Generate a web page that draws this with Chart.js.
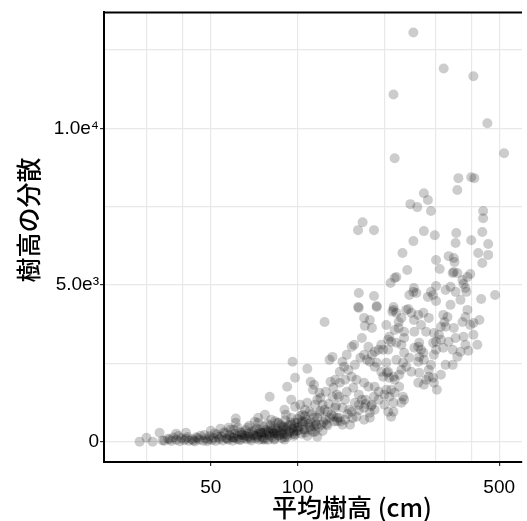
<!DOCTYPE html>
<html>
<head>
<meta charset="utf-8">
<script src="https://cdn.jsdelivr.net/npm/chart.js@4.4.1/dist/chart.umd.min.js"></script>
<style>
  html, body { margin: 0; padding: 0; background: #fff; }
</style>
</head>
<body>
<canvas id="cv" width="527" height="521"></canvas>
<script>
/***** データ *****/
// 平均樹高 (cm) と 樹高の分散 は同じ順番で対応
const meanHeight = [
  // 上の方のまばらな点
  252,321,407,215,455,217,520,361,400,410,
  358,274,283,246,260,290,440,440,274,299,
  355,353,400,437,458,252,231,423,458,437,
  // 5e3 付近
  302,334,348,350,311,348,345,358,397,388,
  373,376,382,385,240,220,210,339,302,253,
  252,244,258,290,295,283,302,326,353,433,
  484,215,242,168,162,184,217,163,184,162,
  188,
  // 右側のかたまり
  215,220,238,248,262,273,229,203,320,331,
  323,314,326,382,373,397,407,427,348,224,
  234,254,279,297,309,208,211,220,234,264,
  262,254,268,273,264,262,295,302,314,334,
  353,376,302,320,345,367,391,297,345,206,
  203,220,234,244,232,238,248,229,225,206,
  208,217,211,225,217,232,234,215,229,206,
  211,262,274,285,295,297,279,304,264,285,
  339,367,388,407,420,382,358,326,314,290,
  274,253,268,285,229,
  // 100〜200 cm
  124,163,188,170,178,171,181,213,96,108,
  98,92,80,129,132,148,154,157,167,176,
  170,181,191,198,143,145,140,111,114,113,
  119,130,135,140,146,154,160,170,176,185,
  185,195,204,215,178,188,203,208,200,215,
  198,191,95,98,102,108,106,117,122,124,
  129,117,132,139,146,135,143,151,158,167,
  170,178,185,184,139,146,143,152,160,170,
  90,91,77,81,85,73,89,95,100,106,
  111,115,117,79,83,75,92,98,106,77,
  83,90,
  104,110,115,120,125,133,137,148,156,163,
  172,181,191,200,150,158,165,174,185,195,
  206,217,224,127,137,154,163,178,
  // 左下
  28.3,29.9,31.4,33.2,34.5,37.9,41,50,54,61,
  61,73,71,68,57.6,60,62,
  // 底の帯
  34,35.5,36.5,37,38,39,39.5,40.5,41.5,42,
  43,44,44.5,45.5,46,47,48,48.5,49.5,50.5,
  51,52,52.5,53.5,54.5,55,56,56.5,57.5,58,
  59,59.5,60.5,61.5,62,63,63.5,64.5,65,66,
  66.5,67.5,68,69,69.5,70.5,71.5,72,73,73.5,
  74.5,75,76,76.5,77.5,78,79,79.5,80.5,81.5,
  82,83,84,84.5,85.5,86,87,88,88.5,89.5,
  90.5,91,92,93,94,95,96,97,98,99,
  101,102,103,104,105,107,108,110,112,113,
  115,118,120,122,125,127,131,134,137,
  36,38.5,41,43.5,45,47.5,49,51.5,53,55.5,
  57,58.5,60,62.5,64,65.5,67,68.5,70,71,
  72.5,74,75.5,77,78.5,80,81,82.5,83.5,85,
  86.5,87.5,89,90,91.5,93.5,94.5,96.5,97.5,100,
  100.5,103.5,106,109,111,114,116,119,123,128,
  126,133,136,141,149,155,163,172,180,
  100,106,114,121,97,88,82,76,72,67,
  64,60
];
const heightVar = [
  13060,11910,11660,11080,10160,9045,9205,8410,8440,8410,
  8030,7930,7710,7580,7485,7360,7360,7130,6720,6590,
  6660,6340,6430,6690,6310,6400,6020,6020,5960,5700,

  5800,5920,5860,5730,5510,5415,5380,5380,5350,5255,
  5160,5030,4905,4780,5480,5255,5065,4940,4970,4905,
  4780,4680,4745,4780,4680,4620,4490,4840,4780,4555,
  4680,4300,4235,7005,6750,6750,5225,4745,4650,4300,
  4330,

  4205,4110,4205,4110,4045,4110,3950,3725,4045,3980,
  3820,3665,3665,3980,3820,3725,3790,3885,3630,3630,
  3505,3505,3505,3470,3410,3345,3185,3155,3310,3155,
  3025,2995,2930,2835,2705,2550,3155,3185,3250,3185,
  3310,3345,2930,2995,2930,2865,2900,2770,2450,2930,
  2515,2610,2835,2675,2515,2390,2230,2295,2135,2230,
  2040,1975,1655,1750,1560,1435,1340,1240,1240,955,
  795,1880,1815,2070,2040,1880,1975,1655,2200,2295,
  4365,4525,4205,3410,3090,3090,2710,2450,2135,2450,
  2610,3885,3725,3950,3090,

  3820,4270,4300,3950,3885,3695,3630,4150,2550,2325,
  2040,1750,1435,2610,2705,2770,3025,3090,3310,3025,
  2770,2770,2930,2930,2550,2390,2230,1910,1815,1655,
  1560,1910,1975,1880,1975,2070,1975,1880,1750,1750,
  2390,2230,2200,2070,2550,2515,1655,1435,1180,955,
  2070,1595,1340,1115,1180,1240,1020,1340,1180,1020,
  765,765,1435,1435,1340,1085,1085,1020,1240,1340,
  1085,925,1020,1435,765,700,540,540,795,700,
  1020,860,860,700,605,605,480,540,605,635,
  605,320,160,320,285,285,225,225,285,65,
  65,65,
  860,955,1180,1400,1590,1720,1500,1590,1720,1500,
  1340,1180,1340,1500,2290,2450,2675,2610,2865,3090,
  3250,3565,3820,955,765,955,1180,765,

  0,125,0,285,30,255,285,350,415,735,
  605,765,635,510,445,380,445,

  40,90,20,130,60,10,110,45,150,25,
  80,5,140,60,190,30,100,15,170,55,
  120,20,230,85,160,40,270,110,60,200,
  140,30,250,90,170,310,50,210,120,360,
  80,260,150,40,330,190,100,420,240,60,
  300,160,480,110,370,220,60,270,520,150,
  330,90,430,250,180,600,320,110,460,240,
  680,380,150,520,290,760,420,180,600,340,
  480,820,250,560,390,700,180,470,880,300,
  620,450,980,340,700,520,860,640,650,
  70,180,95,35,120,210,70,260,150,300,
  90,380,130,60,280,190,440,90,230,350,
  150,390,70,290,560,190,410,250,650,340,
  200,530,390,140,450,330,610,250,470,720,
  360,640,820,560,370,760,540,900,620,1200,
  560,800,1150,640,880,750,1000,1200,1130,
  445,380,480,540,320,255,380,285,190,160,
  220,125
];

// 目盛り
const xGridValues = [30, 40, 50, 100, 200, 300, 400, 500];
const xTickLabels = { 50: "50", 100: "100", 500: "500" };
const yGridValues = [0, 2500, 5000, 7500, 10000, 12500];
const yTickLabels = { 0: "0", 5000: "5.0e³", 10000: "1.0e⁴" };
const xTitle = "平均樹高 (cm)";
const yTitle = "樹高の分散";

/***** 枠線とタイトル *****/
const frame = {
  id: "frame",
  afterDraw(chart){
    const { ctx, chartArea: a } = chart;
    ctx.save();
    ctx.strokeStyle = "#000";
    ctx.lineWidth = 2;
    ctx.beginPath();
    ctx.moveTo(a.left - 1, a.top);
    ctx.lineTo(a.right, a.top);
    ctx.stroke();

    ctx.fillStyle = "#000";
    ctx.font = '500 25px "Noto Sans CJK JP"';
    ctx.textAlign = "center";
    ctx.textBaseline = "middle";
    ctx.fillText(xTitle, 352, 507);
    ctx.translate(28, 220);
    ctx.rotate(-Math.PI / 2);
    ctx.fillText(yTitle, 0, 0);
    ctx.restore();
  }
};

const tickFont = { family: '"Liberation Sans", Arial, sans-serif', size: 19 };
const points = meanHeight.map((x, i) => ({ x, y: heightVar[i] }));

new Chart(document.getElementById("cv"), {
  type: "scatter",
  data: {
    datasets: [{
      data: points,
      backgroundColor: "rgba(0,0,0,0.2)",
      borderWidth: 0,
      pointRadius: 5,
      pointHoverRadius: 5
    }]
  },
  options: {
    responsive: false,
    devicePixelRatio: 1,
    animation: false,
    layout: { padding: { top: 12, right: 0, left: 0, bottom: 0 } },
    plugins: { legend: { display: false }, tooltip: { enabled: false } },
    scales: {
      x: {
        type: "logarithmic",
        min: 21.3,
        max: 600,
        afterBuildTicks: s => { s.ticks = xGridValues.map(v => ({ value: v })); },
        afterFit: s => { s.height = 59; },
        ticks: {
          autoSkip: false,
          maxRotation: 0,
          padding: 10,
          color: "#000",
          font: tickFont,
          callback: v => xTickLabels[v] || ""
        },
        grid: {
          color: "#e8e8e8",
          lineWidth: 1.2,
          tickLength: 4,
          tickColor: c => (c.tick && xTickLabels[c.tick.value]) ? "#333" : "rgba(0,0,0,0)"
        },
        border: { color: "#000", width: 2 }
      },
      y: {
        type: "linear",
        min: -650,
        max: 13700,
        afterBuildTicks: s => { s.ticks = yGridValues.map(v => ({ value: v })); },
        afterFit: s => { s.width = 104; },
        ticks: {
          padding: 1,
          color: "#000",
          font: tickFont,
          callback: v => yTickLabels[v] || ""
        },
        grid: {
          color: "#e8e8e8",
          lineWidth: 1.2,
          tickLength: 4,
          tickColor: c => (c.tick && yTickLabels[c.tick.value]) ? "#333" : "rgba(0,0,0,0)"
        },
        border: { color: "#000", width: 2 }
      }
    }
  },
  plugins: [frame]
});
</script>
</body>
</html>
